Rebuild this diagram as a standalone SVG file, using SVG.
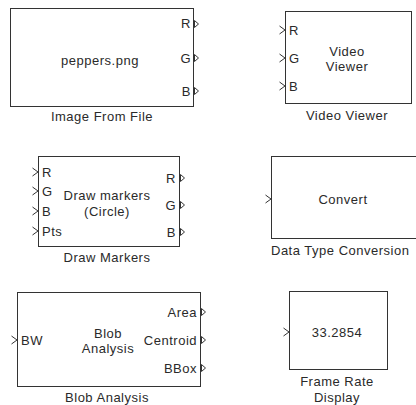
<svg xmlns="http://www.w3.org/2000/svg" width="416" height="405" viewBox="0 0 416 405">
<style>
text{font-family:"Liberation Sans",Arial,sans-serif;font-size:13px;letter-spacing:0.5px;fill:#2a2a2a}
.blk{fill:#fff;stroke:#333;stroke-width:1}
.in{fill:none;stroke:#333;stroke-width:1}
.out{fill:#fff;stroke:#333;stroke-width:1}
.m{text-anchor:middle}
.e{text-anchor:end}
</style>
<rect width="416" height="405" fill="#fff"/>
<g id="image-from-file">
<rect class="blk" x="10.5" y="8.5" width="183" height="98"/>
<text class="m" x="100" y="65">peppers.png</text>
<text class="e" x="191" y="28">R</text>
<text class="e" x="191" y="63">G</text>
<text class="e" x="191" y="96">B</text>
<polygon class="out" points="194.5,20.5 198.5,24 194.5,27.5"/>
<polygon class="out" points="194.5,54.5 198.5,58 194.5,61.5"/>
<polygon class="out" points="194.5,87.5 198.5,91 194.5,94.5"/>
<text class="m" x="102" y="121">Image From File</text>
</g>
<g id="video-viewer">
<rect class="blk" x="285.5" y="11.5" width="126" height="92"/>
<polyline class="in" points="279.5,26 285,30 279.5,34"/>
<polyline class="in" points="279.5,54 285,58 279.5,62"/>
<polyline class="in" points="279.5,82 285,86 279.5,90"/>
<text x="289" y="35">R</text>
<text x="289" y="63">G</text>
<text x="289" y="91">B</text>
<text class="m" x="347" y="56">Video</text>
<text class="m" x="347" y="71">Viewer</text>
<text class="m" x="347" y="120">Video Viewer</text>
</g>
<g id="draw-markers">
<rect class="blk" x="38.5" y="156.5" width="141" height="90"/>
<polyline class="in" points="32.5,168 38,172 32.5,176"/>
<polyline class="in" points="32.5,187 38,191 32.5,195"/>
<polyline class="in" points="32.5,207 38,211 32.5,215"/>
<polyline class="in" points="32.5,227 38,231 32.5,235"/>
<text x="42" y="177">R</text>
<text x="42" y="196">G</text>
<text x="42" y="216">B</text>
<text x="42" y="236">Pts</text>
<text class="e" x="176" y="183">R</text>
<text class="e" x="176" y="210">G</text>
<text class="e" x="176" y="237">B</text>
<polygon class="out" points="180.5,174.5 184.5,178 180.5,181.5"/>
<polygon class="out" points="180.5,201.5 184.5,205 180.5,208.5"/>
<polygon class="out" points="180.5,228.5 184.5,232 180.5,235.5"/>
<text class="m" x="107" y="200">Draw markers</text>
<text class="m" x="107" y="216">(Circle)</text>
<text class="m" x="107" y="262">Draw Markers</text>
</g>
<g id="data-type-conversion">
<rect class="blk" x="271.5" y="156.5" width="146" height="82"/>
<polyline class="in" points="265.5,195 271,199 265.5,203"/>
<text class="m" x="343" y="204">Convert</text>
<text x="271" y="255">Data Type Conversion</text>
</g>
<g id="blob-analysis">
<rect class="blk" x="17.5" y="292.5" width="183" height="94"/>
<polyline class="in" points="11.5,336 17,340 11.5,344"/>
<text x="21" y="345">BW</text>
<text class="e" x="197" y="317">Area</text>
<text class="e" x="197" y="345">Centroid</text>
<text class="e" x="197" y="373">BBox</text>
<polygon class="out" points="201.5,308.5 205.5,312 201.5,315.5"/>
<polygon class="out" points="201.5,336.5 205.5,340 201.5,343.5"/>
<polygon class="out" points="201.5,364.5 205.5,368 201.5,371.5"/>
<text class="m" x="108" y="338">Blob</text>
<text class="m" x="108" y="353">Analysis</text>
<text class="m" x="107" y="402">Blob Analysis</text>
</g>
<g id="frame-rate-display">
<rect class="blk" x="289.5" y="291.5" width="98" height="78"/>
<polyline class="in" points="283.5,328 289,332 283.5,336"/>
<text class="m" x="337" y="337">33.2854</text>
<text class="m" x="337" y="386">Frame Rate</text>
<text class="m" x="337" y="402">Display</text>
</g>
<g id="connectors"></g>
</svg>
